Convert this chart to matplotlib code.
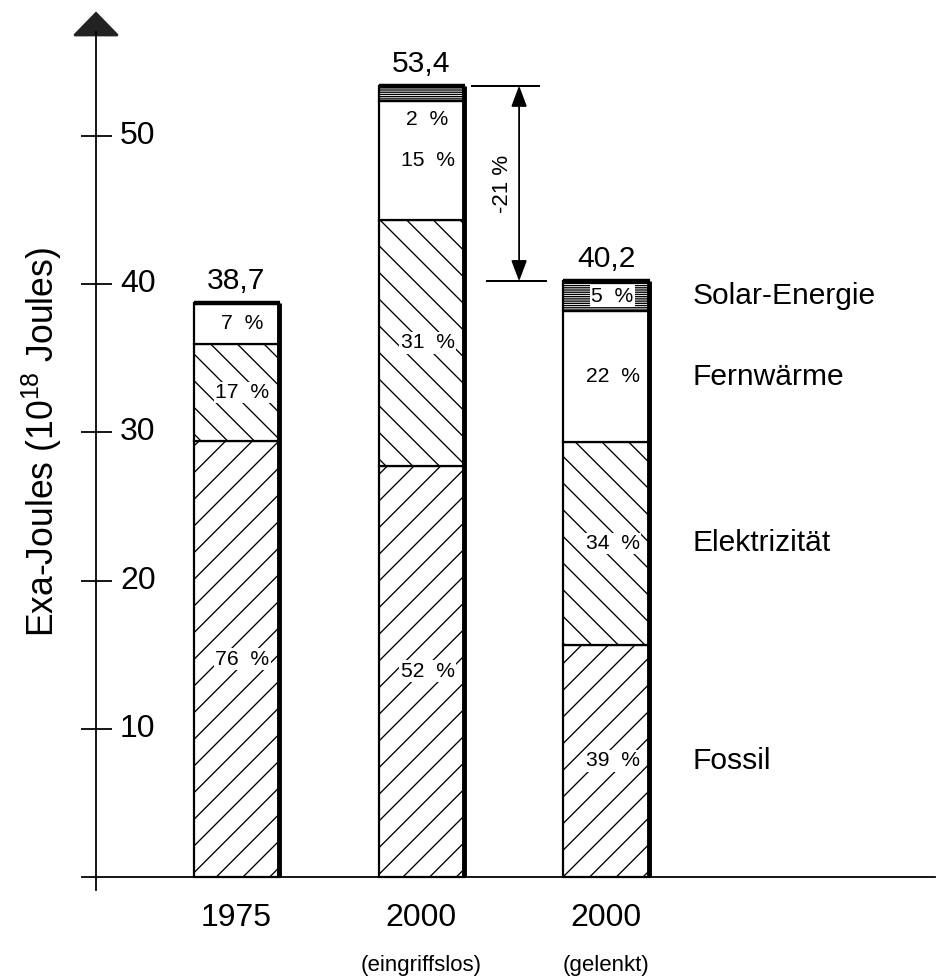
import numpy as np
import matplotlib
matplotlib.use('Agg')
import matplotlib.pyplot as plt
from matplotlib.patches import Polygon

plt.rcParams['font.family'] = ['Liberation Sans', 'DejaVu Sans']
plt.rcParams['mathtext.default'] = 'regular'
plt.rcParams['hatch.linewidth'] = 0.6

# data
years = ['1975', '2000', '2000']
scenarios = ['', '(eingriffslos)', '(gelenkt)']
totals = [38.7, 53.4, 40.2]
categories = ['Fossil', 'Elektrizität', 'Fernwärme', 'Solar-Energie']
shares = [[76, 52, 39],   # Fossil
          [17, 31, 34],   # Elektrizität
          [7, 15, 22],    # Fernwärme
          [0, 2, 5]]      # Solar-Energie
hatches = ['//', '\\\\', '', '-' * 12]
yticks = [10, 20, 30, 40, 50]
change_label = '-21 %'

DPI = 160
fig = plt.figure(figsize=(942 / DPI, 976 / DPI), dpi=DPI)
ax = fig.add_axes([0, 0, 1, 1])
ax.set_xlim(-1.276, 3.816)
ax.set_ylim(-6.68, 59.18)
ax.axis('off')

x = np.arange(len(years))
width = 0.46
tot = np.array(totals)

# axes drawn by hand (arrow on top, crossing ticks)
yax = -0.757
ax.plot([yax, yax], [-0.9, 57.0], color='black', lw=0.8)
ax.plot([-0.832, 3.778], [0, 0], color='black', lw=0.8)
ax.add_patch(Polygon([[yax - 0.117, 56.8], [yax + 0.117, 56.8], [yax, 58.3]],
                     closed=True, color='#222222'))
ax.hlines(yticks, -0.838, -0.670, color='black', lw=0.8)
for t in yticks:
    ax.text(-0.627, t, str(t), ha='left', va='center', fontsize=14.4)

ax.text(-1.049, 29.35, r'Exa-Joules (10$^{18}$ Joules)', rotation=90,
        ha='center', va='center', fontsize=16)

# stacked bars
bottom = np.zeros(len(years))
for cat, share, hatch in zip(categories, shares, hatches):
    vals = tot * np.array(share) / 100
    keep = vals > 0
    ax.bar(x[keep], vals[keep], width, bottom=bottom[keep], color='white',
           edgecolor='black', linewidth=1.0, hatch=hatch, zorder=2)
    for xi, b, v, s in zip(x, bottom, vals, share):
        if s == 0:
            continue
        yl = b + v / 2 if v > 1.5 else b - 1.2
        ax.text(xi + 0.035, yl, f'{s}  %', ha='center', va='center', fontsize=9.5,
                zorder=4, bbox=dict(facecolor='white', edgecolor='none', pad=0.6))
    ax.text(2.47, bottom[-1] + vals[-1] / 2, cat, ha='left', va='center',
            fontsize=13.5)
    bottom += vals

# heavy right and top edges
ax.vlines(x + width / 2, 0, tot, color='black', lw=2.2, zorder=3)
ax.hlines(tot, x - width / 2, x + width / 2 + 0.005, color='black', lw=2.0, zorder=3)

for xi, t in zip(x, tot):
    ax.text(xi, t + 0.55, f'{t:.1f}'.replace('.', ','), ha='center', va='bottom',
            fontsize=13.5)

for xi, yr, sc in zip(x, years, scenarios):
    ax.text(xi, -2.77, yr, ha='center', va='center', fontsize=14.4)
    if sc:
        ax.text(xi, -5.94, sc, ha='center', va='center', fontsize=10)

# difference marker between the two 2000 variants
xd = 1.53
ax.hlines(tot[1], 1.27, 1.645, color='black', lw=0.9)
ax.hlines(tot[2], 1.35, 1.68, color='black', lw=0.9)
ax.annotate('', xy=(xd, tot[1]), xytext=(xd, tot[2]),
            arrowprops=dict(arrowstyle='<|-|>,head_length=0.8,head_width=0.3',
                            color='black', lw=0.8, shrinkA=0, shrinkB=0,
                            mutation_scale=10))
ax.text(xd - 0.09, (tot[1] + tot[2]) / 2, change_label, rotation=90,
        ha='center', va='center', fontsize=10)

fig.savefig('out.png', dpi=DPI)
